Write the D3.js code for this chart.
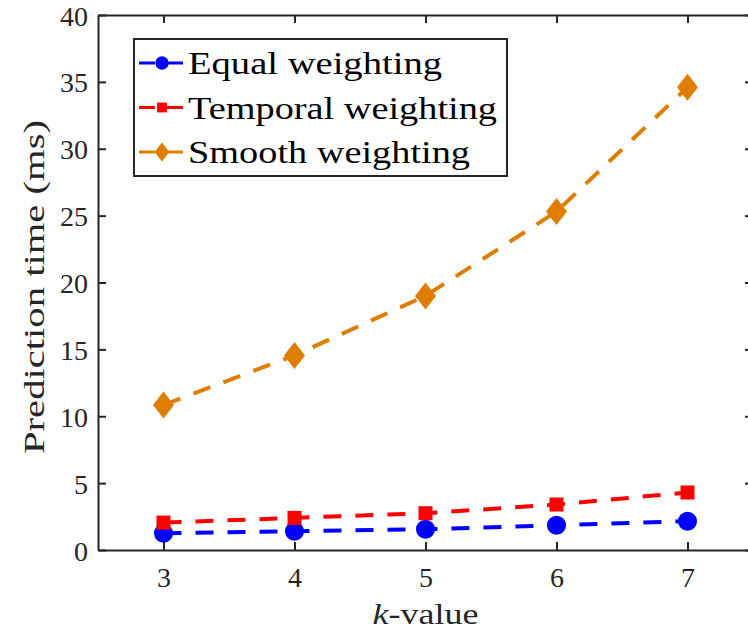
<!DOCTYPE html>
<html>
<head>
<meta charset="utf-8">
<script src="https://cdn.jsdelivr.net/npm/d3@7"></script>
<style>
  body { margin: 0; background: #fff; }
</style>
</head>
<body>
<div id="chart"></div>
<script>
// data
var kValues = [3, 4, 5, 6, 7];
var equalWeighting = [1.25, 1.4, 1.55, 1.85, 2.15];
var temporalWeighting = [2.05, 2.4, 2.75, 3.4, 4.3];
var smoothWeighting = [10.85, 14.55, 19.0, 25.3, 34.6];
var yTicks = [0, 5, 10, 15, 20, 25, 30, 35, 40];

var series = [
  {name: 'Equal weighting', values: equalWeighting, color: '#0000ff', marker: 'circle', textLen: 254},
  {name: 'Temporal weighting', values: temporalWeighting, color: '#ff0000', marker: 'square', textLen: 309},
  {name: 'Smooth weighting', values: smoothWeighting, color: '#de7d00', marker: 'diamond', textLen: 282}
];

var font = 'Liberation Serif, DejaVu Serif, Noto Sans, sans-serif';

var W = 748, H = 634;
var margin = {top: 15, right: -5, bottom: 84, left: 98},
    width = W - margin.left - margin.right,
    height = H - margin.top - margin.bottom;

var svg = d3.select('#chart').append('svg')
    .attr('width', W)
    .attr('height', H)
    .style('font-family', font);

var g = svg.append('g')
    .attr('transform', 'translate(' + margin.left + ',' + margin.top + ')');

var x = d3.scaleLinear().domain([2.5, 7.5]).range([0, width]);
var y = d3.scaleLinear().domain([0, 40]).range([height, 0]);

var axisColor = '#262626';
var tickLen = 8;

// axes with inward ticks, box on
var axBottom = g.append('g')
    .attr('transform', 'translate(0,' + height + ')')
    .call(d3.axisBottom(x).tickValues(kValues).tickFormat(d3.format('d')).tickSize(-tickLen).tickPadding(17).tickSizeOuter(0));
var axLeft = g.append('g')
    .call(d3.axisLeft(y).tickValues(yTicks).tickSize(-tickLen).tickPadding(10).tickSizeOuter(0));
var axTop = g.append('g')
    .call(d3.axisTop(x).tickValues(kValues).tickSize(-tickLen).tickFormat('').tickSizeOuter(0));
var axRight = g.append('g')
    .attr('transform', 'translate(' + width + ',0)')
    .call(d3.axisRight(y).tickValues(yTicks).tickSize(-tickLen).tickFormat('').tickSizeOuter(0));

[axBottom, axLeft, axTop, axRight].forEach(function(a) {
  a.attr('font-family', null);
  a.selectAll('path.domain').attr('stroke', axisColor).attr('stroke-width', 2);
  a.selectAll('.tick line').attr('stroke', axisColor).attr('stroke-width', 2);
  a.selectAll('.tick text').attr('font-size', '28px').attr('fill', axisColor);
});
axLeft.selectAll('.tick text').attr('dy', '0.36em');

// axis labels
svg.append('text')
    .attr('x', margin.left + x(5))
    .attr('y', 624)
    .attr('text-anchor', 'middle')
    .attr('font-size', '29px')
    .attr('fill', axisColor)
    .attr('textLength', 106)
    .attr('lengthAdjust', 'spacingAndGlyphs')
    .html('<tspan font-style="italic">k</tspan>-value');

svg.append('text')
    .attr('transform', 'translate(44,287) rotate(-90)')
    .attr('text-anchor', 'middle')
    .attr('font-size', '29px')
    .attr('fill', axisColor)
    .attr('textLength', 334)
    .attr('lengthAdjust', 'spacingAndGlyphs')
    .text('Prediction time (ms)');

var line = d3.line()
    .x(function(d, i) { return x(kValues[i]); })
    .y(function(d) { return y(d); });

function drawMarker(sel, type, color, s) {
  if (type === 'circle') {
    sel.append('circle').attr('r', 9.5 * s).attr('fill', color);
  } else if (type === 'square') {
    sel.append('rect').attr('x', -7 * s).attr('y', -7 * s)
      .attr('width', 14 * s).attr('height', 14 * s).attr('fill', color);
  } else {
    var w = 10.5 * s, h = 13.5 * s;
    sel.append('path')
      .attr('d', 'M0,' + (-h) + 'L' + w + ',0L0,' + h + 'L' + (-w) + ',0Z')
      .attr('fill', color);
  }
}

series.forEach(function(s) {
  g.append('path')
      .datum(s.values)
      .attr('fill', 'none')
      .attr('stroke', s.color)
      .attr('stroke-width', 4)
      .attr('stroke-dasharray', '18,14')
      .attr('d', line);

  s.values.forEach(function(v, i) {
    var m = g.append('g')
        .attr('transform', 'translate(' + x(kValues[i]) + ',' + y(v) + ')');
    drawMarker(m, s.marker, s.color, 1);
  });
});

// legend
var legend = svg.append('g').attr('transform', 'translate(134,39)');
legend.append('rect')
    .attr('width', 373)
    .attr('height', 137)
    .attr('fill', '#fff')
    .attr('stroke', axisColor)
    .attr('stroke-width', 2);

series.forEach(function(s, i) {
  var row = legend.append('g').attr('transform', 'translate(0,' + (24 + i * 44.5) + ')');
  row.append('line')
      .attr('x1', 5).attr('x2', 49)
      .attr('stroke', s.color)
      .attr('stroke-width', 3)
      .attr('stroke-dasharray', '16,6,22');
  var m = row.append('g').attr('transform', 'translate(28,0)');
  drawMarker(m, s.marker, s.color, 0.7);
  row.append('text')
      .attr('x', 54)
      .attr('y', 0)
      .attr('dy', '0.36em')
      .attr('font-size', '31px')
      .attr('fill', '#000')
      .attr('textLength', s.textLen)
      .attr('lengthAdjust', 'spacingAndGlyphs')
      .text(s.name);
});
</script>
</body>
</html>
